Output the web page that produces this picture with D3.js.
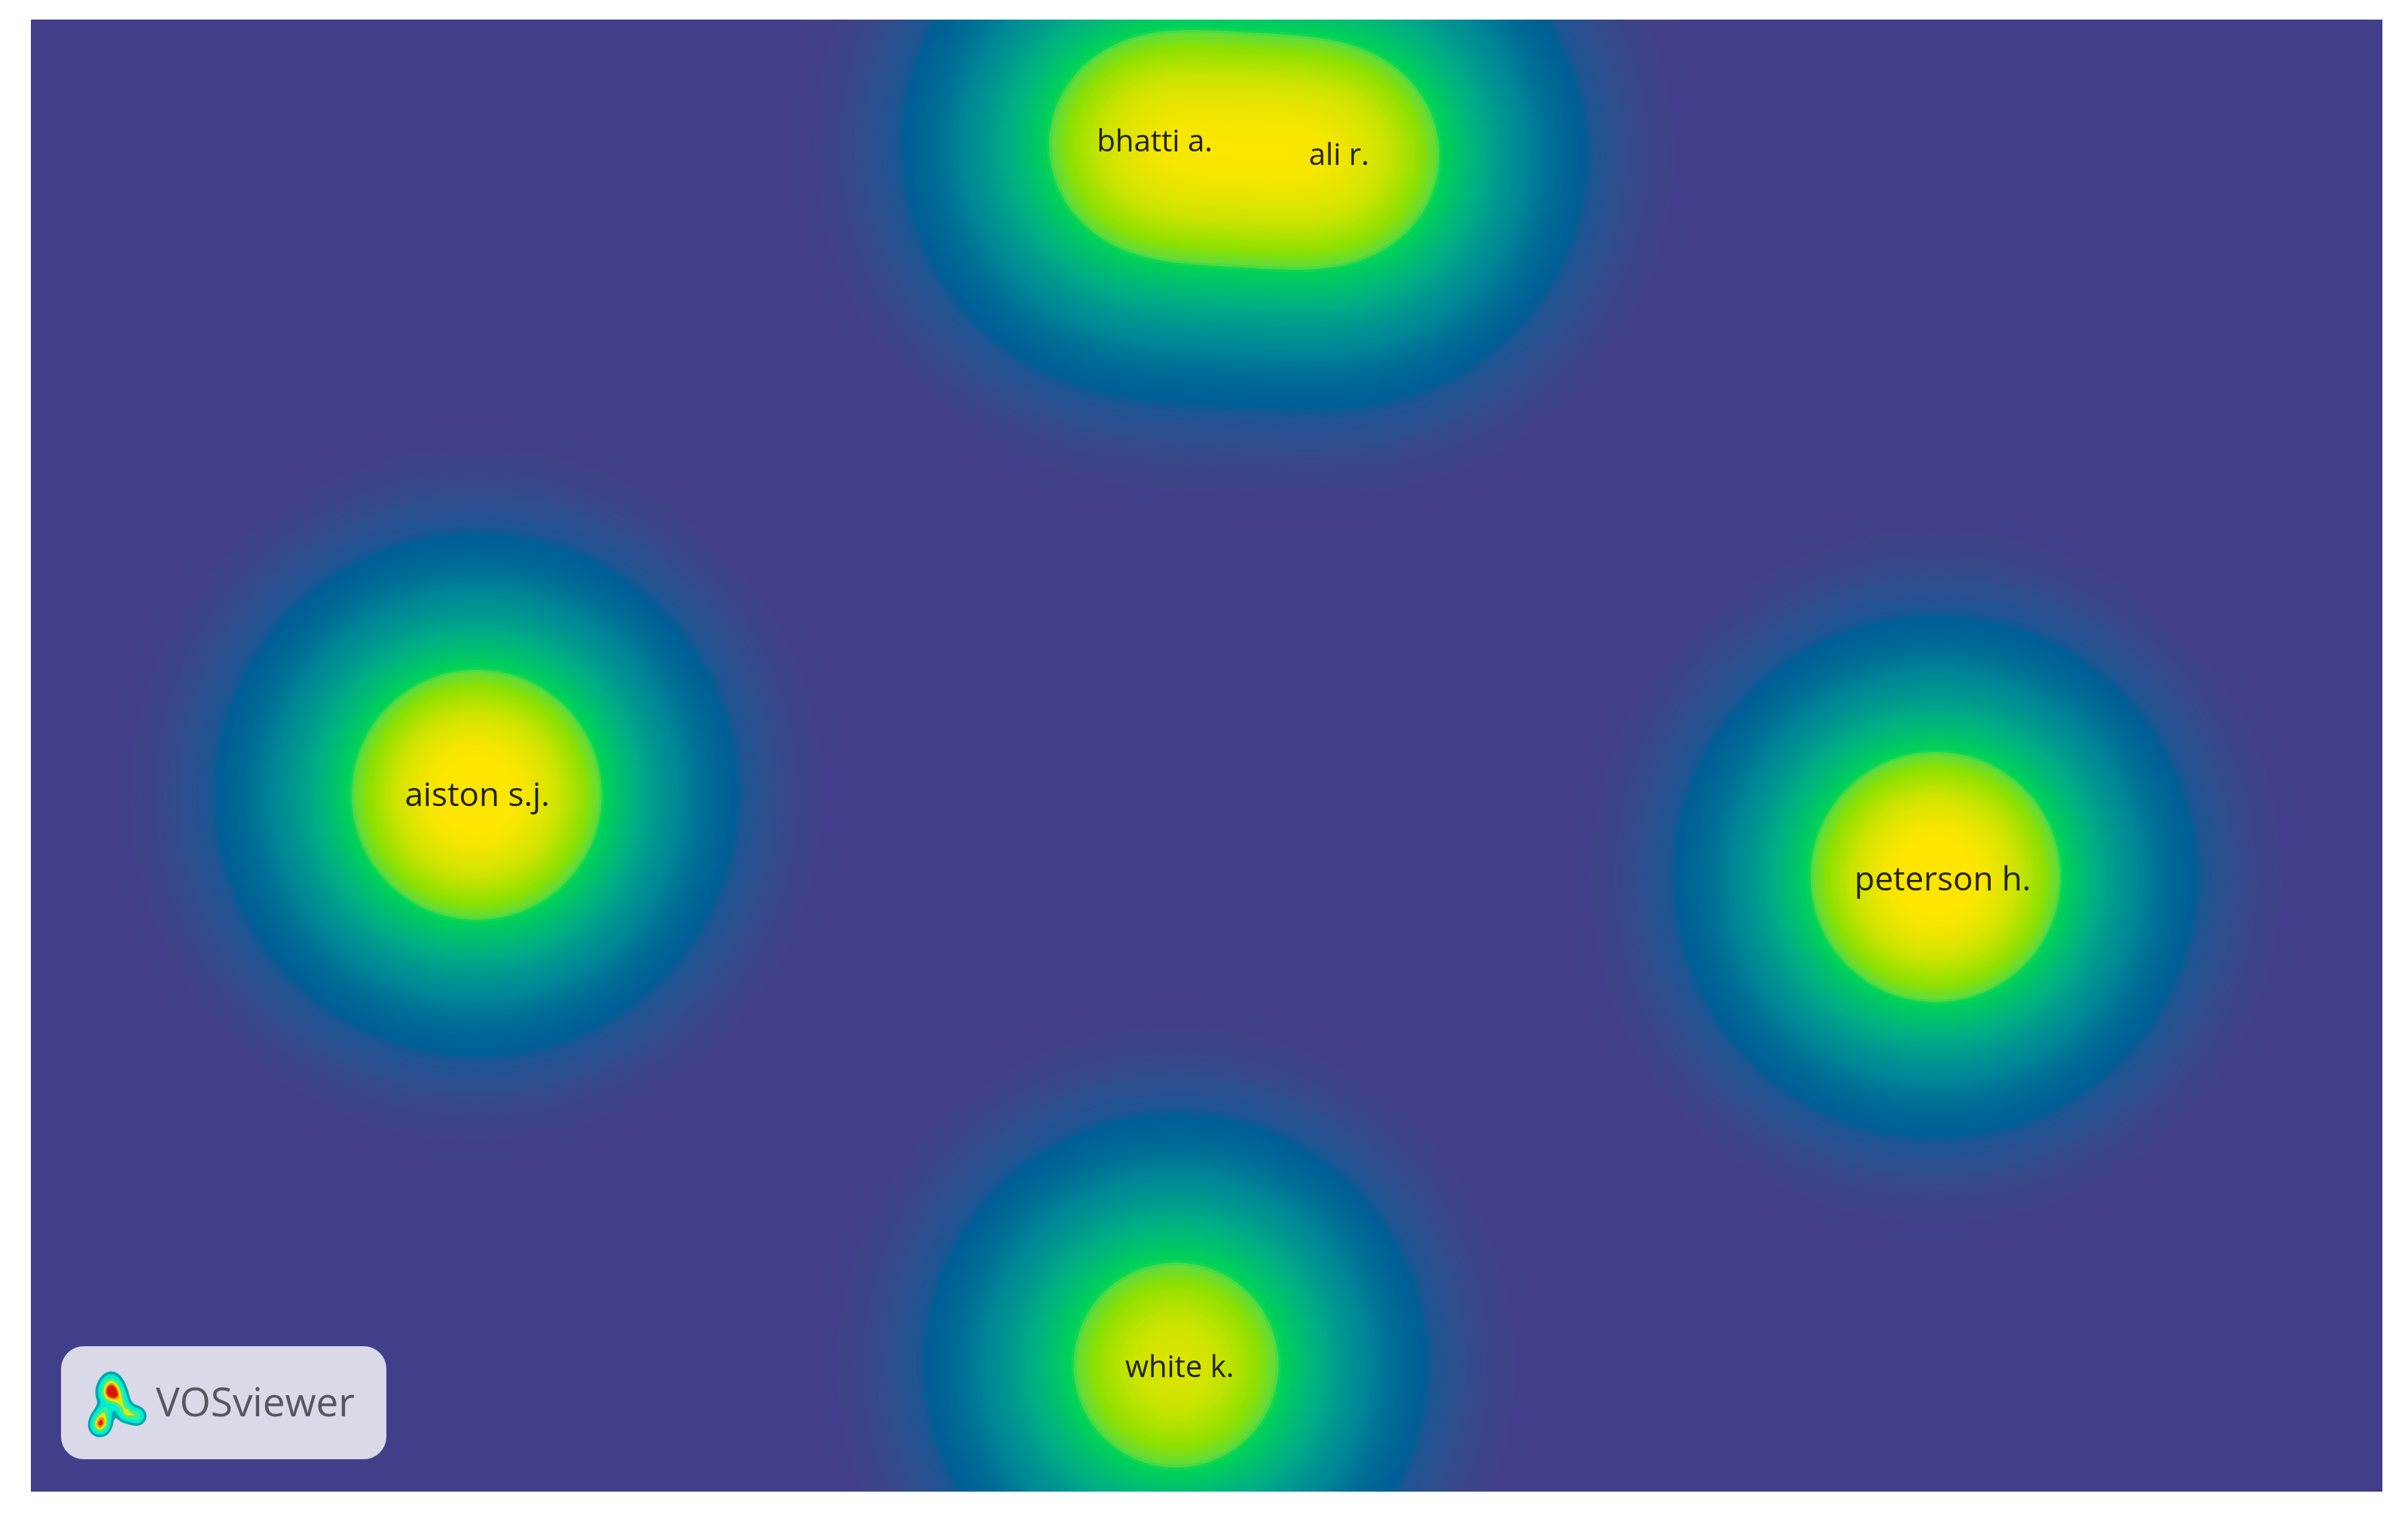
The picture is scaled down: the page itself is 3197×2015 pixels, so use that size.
<!DOCTYPE html>
<html>
<head>
<meta charset="utf-8">
<title>VOSviewer density map</title>
<script src="https://d3js.org/d3.v7.min.js"></script>
<style>
  html, body { margin: 0; padding: 0; background: #fff; overflow: hidden; }
  svg { display: block; }
  text { font-family: "Open Sans", sans-serif; }
</style>
</head>
<body>
<svg id="chart" width="3197" height="2015"></svg>
<script>
// author positions in map units (0-100 on both axes)
const authors = ['aiston s.j.', 'peterson h.', 'white k.', 'bhatti a.', 'ali r.'];
const authorX = [18.96, 81.0, 48.7, 47.75, 55.45];
const authorY = [52.66, 58.24, 91.4, 8.5, 9.2];
const authorWeight = [1, 1, 0.73, 0.74, 0.74];

// label centres, also in map units
const labelX = [18.98, 81.3, 48.85, 47.79, 55.63];
const labelY = [52.66, 58.35, 91.5, 8.25, 9.15];

// density -> colour ramp
const densityStops = [0, 0.0012, 0.00443, 0.0123, 0.016, 0.078, 0.192, 0.367, 0.389, 0.477, 0.657, 0.856, 0.93, 1];
const colorStops = ['#423e8a', '#3d4389', '#2f4e8e', '#1c5593', '#005f96', '#008797', '#00ad85',
  '#00d455', '#5fdc3e', '#8ce000', '#cde400', '#f6e600', '#ffe600', '#ffe600'];

// logo heat spots, in pixels inside the logo plate
const logoX = [66, 66, 76, 51, 54, 58, 80, 86, 100];
const logoY = [61, 47, 65, 105, 95, 84, 76, 88, 92];
const logoWeight = [1, 0.35, 0.2, 0.7, 0.5, 0.3, 0.4, 0.55, 0.5];
const logoSpread = [9.5, 8, 7, 7.5, 7.5, 6.5, 6.5, 7, 7];
const logoLevels = [0.09, 0.2, 0.42, 0.6, 0.78, 0.9];
const logoColors = ['#00a5ac', '#00eed2', '#3cf08a', '#e4e800', '#f58a00', '#d81800'];

const plot = { left: 41, right: 3163, top: 26, bottom: 1980 };
const sigma = 120;
const cell = 4;

const x = d3.scaleLinear().domain([0, 100]).range([plot.left, plot.right]);
const y = d3.scaleLinear().domain([0, 100]).range([plot.top, plot.bottom]);
const color = d3.scaleLinear().domain(densityStops).range(colorStops).clamp(true);
const labelSize = d3.scaleLinear().domain([0.73, 1]).range([40, 44]);

const svg = d3.select('#chart');

svg.append('defs').append('clipPath')
  .attr('id', 'plot-clip')
  .append('rect')
  .attr('x', plot.left)
  .attr('y', plot.top)
  .attr('width', plot.right - plot.left)
  .attr('height', plot.bottom - plot.top);

const blur = svg.select('defs').append('filter').attr('id', 'soft');
blur.append('feGaussianBlur').attr('stdDeviation', 0.6);

const map = svg.append('g').attr('clip-path', 'url(#plot-clip)');

map.append('rect')
  .attr('x', plot.left)
  .attr('y', plot.top)
  .attr('width', plot.right - plot.left)
  .attr('height', plot.bottom - plot.top)
  .attr('fill', colorStops[0]);

// sample the density on a grid that runs a little past the plot edges
const pad = 3;
const cols = Math.ceil((plot.right - plot.left) / cell) + pad * 2;
const rows = Math.ceil((plot.bottom - plot.top) / cell) + pad * 2;
const grid = new Float64Array(cols * rows);

authors.forEach((name, i) => {
  const px = x(authorX[i]);
  const py = y(authorY[i]);
  for (let r = 0; r < rows; r++) {
    const gy = plot.top + (r - pad) * cell;
    for (let c = 0; c < cols; c++) {
      const gx = plot.left + (c - pad) * cell;
      const d2 = (gx - px) * (gx - px) + (gy - py) * (gy - py);
      grid[r * cols + c] += authorWeight[i] * Math.exp(-d2 / (2 * sigma * sigma));
    }
  }
});

// levels are evenly spaced in radius so that every band has about the same width
const levels = d3.range(490, 0, -3).map(r => Math.exp(-r * r / (2 * sigma * sigma)));

const contours = d3.contours().size([cols, rows]).thresholds(levels)(grid);
const gridPath = d3.geoPath(d3.geoIdentity()
  .scale(cell)
  .translate([plot.left - (pad + 0.5) * cell, plot.top - (pad + 0.5) * cell]));

map.append('g')
  .selectAll('path')
  .data(contours)
  .join('path')
  .attr('d', gridPath)
  .attr('fill', d => color(d.value));

map.append('g')
  .attr('filter', 'url(#soft)')
  .selectAll('text')
  .data(authors)
  .join('text')
  .attr('x', (d, i) => x(labelX[i]))
  .attr('y', (d, i) => y(labelY[i]))
  .attr('dy', '0.35em')
  .attr('text-anchor', 'middle')
  .attr('font-size', (d, i) => labelSize(authorWeight[i]))
  .attr('fill', '#20200c')
  .text(d => d);

// logo plate
const logo = svg.append('g').attr('transform', 'translate(81,1787)');

logo.append('rect')
  .attr('width', 432)
  .attr('height', 150)
  .attr('rx', 30)
  .attr('fill', '#d9d9e8');

const logoCols = 130;
const logoRows = 130;
const logoGrid = new Float64Array(logoCols * logoRows);
logoX.forEach((lx, i) => {
  for (let r = 0; r < logoRows; r++) {
    for (let c = 0; c < logoCols; c++) {
      const d2 = (c - lx) * (c - lx) + (r - logoY[i]) * (r - logoY[i]);
      logoGrid[r * logoCols + c] += logoWeight[i] * Math.exp(-d2 / (2 * logoSpread[i] * logoSpread[i]));
    }
  }
});

const logoFill = d3.scaleOrdinal().domain(logoLevels).range(logoColors);

logo.append('g')
  .attr('filter', 'url(#soft)')
  .selectAll('path')
  .data(d3.contours().size([logoCols, logoRows]).thresholds(logoLevels)(logoGrid))
  .join('path')
  .attr('d', d3.geoPath())
  .attr('fill', d => logoFill(d.value));

logo.append('text')
  .attr('x', 126)
  .attr('y', 93)
  .attr('font-size', 53)
  .attr('fill', '#55565f')
  .attr('filter', 'url(#soft)')
  .text('VOSviewer');
</script>
</body>
</html>
